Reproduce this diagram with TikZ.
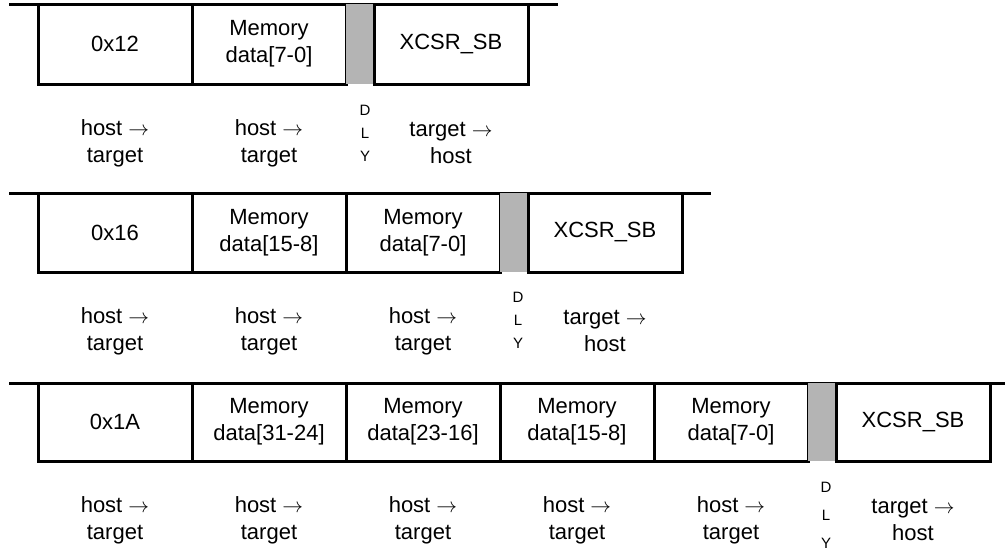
\documentclass[tikz,border=0pt]{standalone}
\usepackage{fontspec}
\setmainfont{Liberation Sans}
\definecolor{dlygray}{RGB}{180,180,180}
\newcommand{\hra}{$\rightarrow$}
\begin{document}
\begin{tikzpicture}[x=1pt,y=-1pt,
  cell/.style={draw, line width=3pt, minimum width=154pt, minimum height=80pt,
    inner sep=0pt, outer sep=0pt, align=center, anchor=north west,
    font=\fontsize{22}{27}\selectfont},
  gapbox/.style={fill=dlygray, minimum width=28pt, minimum height=80pt,
    inner sep=0pt, outer sep=0pt, anchor=north west},
  lbl/.style={align=center, inner sep=0pt, font=\fontsize{22}{27}\selectfont},
  dly/.style={align=center, inner sep=0pt, font=\fontsize{15}{23}\selectfont},
  topline/.style={line width=3pt}]
\useasboundingbox (0,0) rectangle (1005,554);

% ---------- Row 1 ----------
\coordinate (r1s) at (9,4);
\coordinate (r1e) at (558,4);
\draw[topline] (r1s) -- (r1e);
\node[cell] (r1a) at (38,4) {0x12};
\node[cell] (r1b) at (192,4) {Memory\\data[7-0]};
\node[gapbox] (r1g) at (346,4) {};
\node[cell] (r1x) at (374,4) {XCSR\_SB};
\node[lbl] (r1al) at (115,143) {host \hra\\target};
\node[lbl] (r1bl) at (269,143) {host \hra\\target};
\node[dly] (r1d) at (365,133) {D\\L\\Y};
\node[lbl] (r1xl) at (451,143) {target \hra\\host};

% ---------- Row 2 ----------
\coordinate (r2s) at (9,193);
\coordinate (r2e) at (711,193);
\draw[topline] (r2s) -- (r2e);
\node[cell, minimum height=79pt] (r2a) at (38,193) {0x16};
\node[cell, minimum height=79pt] (r2b) at (192,193) {Memory\\data[15-8]};
\node[cell, minimum height=79pt] (r2c) at (346,193) {Memory\\data[7-0]};
\node[gapbox, minimum height=79pt] (r2g) at (500,193) {};
\node[cell, minimum height=79pt] (r2x) at (528,193) {XCSR\_SB};
\node[lbl] (r2al) at (115,331) {host \hra\\target};
\node[lbl] (r2bl) at (269,331) {host \hra\\target};
\node[lbl] (r2cl) at (423,331) {host \hra\\target};
\node[dly] (r2d) at (518,320) {D\\L\\Y};
\node[lbl] (r2xl) at (605,331) {target \hra\\host};

% ---------- Row 3 ----------
\coordinate (r3s) at (9,383);
\coordinate (r3e) at (1005,383);
\draw[topline] (r3s) -- (r3e);
\node[cell, minimum height=78pt] (r3a) at (38,383) {0x1A};
\node[cell, minimum height=78pt] (r3b) at (192,383) {Memory\\data[31-24]};
\node[cell, minimum height=78pt] (r3c) at (346,383) {Memory\\data[23-16]};
\node[cell, minimum height=78pt] (r3d) at (500,383) {Memory\\data[15-8]};
\node[cell, minimum height=78pt] (r3e2) at (654,383) {Memory\\data[7-0]};
\node[gapbox, minimum height=78pt] (r3g) at (808,383) {};
\node[cell, minimum height=78pt] (r3x) at (836,383) {XCSR\_SB};
\node[lbl] (r3al) at (115,520) {host \hra\\target};
\node[lbl] (r3bl) at (269,520) {host \hra\\target};
\node[lbl] (r3cl) at (423,520) {host \hra\\target};
\node[lbl] (r3dl) at (577,520) {host \hra\\target};
\node[lbl] (r3el) at (731,520) {host \hra\\target};
\node[dly, font=\fontsize{15}{28}\selectfont] (r3dd) at (826,515) {D\\L\\Y};
\node[lbl] (r3xl) at (913,520) {target \hra\\host};
\end{tikzpicture}
\end{document}
